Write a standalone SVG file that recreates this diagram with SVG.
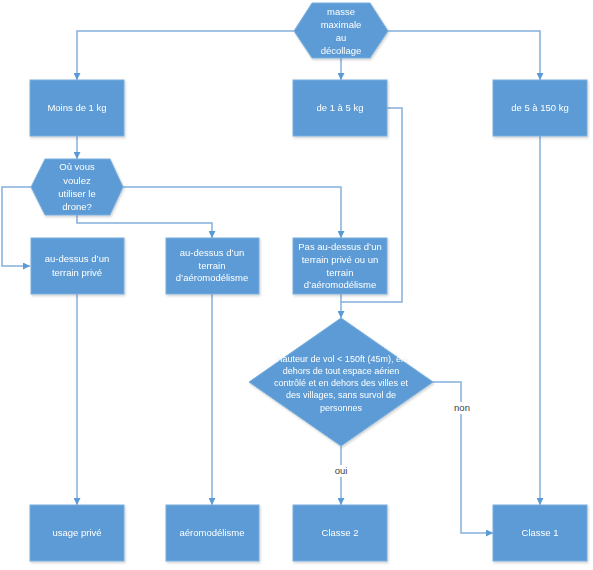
<svg xmlns="http://www.w3.org/2000/svg" width="593" height="570" viewBox="0 0 593 570">
<style>
.n{fill:#5B9BD5;stroke:#7AAEDD;stroke-width:1;}
.t{font-family:"Liberation Sans",Arial,sans-serif;font-size:9.5px;fill:#ffffff;text-anchor:middle;}
.d{font-size:9px;}
.c{fill:none;stroke:#84B0DC;stroke-width:1.5;}
.l{font-family:"Liberation Sans",Arial,sans-serif;font-size:9.5px;fill:#404040;text-anchor:middle;}
</style>
<defs>
<marker id="a" viewBox="0 0 10 10" refX="10" refY="5" markerWidth="7" markerHeight="7" markerUnits="userSpaceOnUse" orient="auto">
<path d="M0,0 L10,5 L0,10 z" fill="#5B9BD5"/>
</marker>
<filter id="s" x="-10%" y="-10%" width="130%" height="130%">
<feDropShadow dx="1" dy="1.5" stdDeviation="1.2" flood-color="#000" flood-opacity="0.18"/>
</filter>
</defs>
<g id="connectors">
<polyline class="c" points="294,31 77,31 77,80" marker-end="url(#a)"/>
<polyline class="c" points="388,31 540,31 540,80" marker-end="url(#a)"/>
<polyline class="c" points="341,58 341,80" marker-end="url(#a)"/>
<polyline class="c" points="77,136 77,159" marker-end="url(#a)"/>
<polyline class="c" points="31,187 2,187 2,266 30,266" marker-end="url(#a)"/>
<polyline class="c" points="123,187 341,187 341,238" marker-end="url(#a)"/>
<polyline class="c" points="77,215 77,223 212,223 212,238" marker-end="url(#a)"/>
<polyline class="c" points="387,108 402,108 402,302 341,302"/>
<polyline class="c" points="341,294 341,318" marker-end="url(#a)"/>
<polyline class="c" points="77,294 77,505" marker-end="url(#a)"/>
<polyline class="c" points="212,294 212,505" marker-end="url(#a)"/>
<polyline class="c" points="540,136 540,505" marker-end="url(#a)"/>
<polyline class="c" points="341,446 341,505" marker-end="url(#a)"/>
<polyline class="c" points="433,382 461,382 461,533 493,533" marker-end="url(#a)"/>
<rect x="333" y="465" width="16" height="12" fill="#ffffff"/>
<text class="l" x="341" y="474">oui</text>
<rect x="452" y="402" width="19" height="12" fill="#ffffff"/>
<text class="l" x="462" y="411">non</text>
</g>
<g id="masse" filter="url(#s)">
<polygon class="n" points="312,3 370,3 388,31 370,58 312,58 294,31"/>
<text class="t" x="341" y="15">masse</text>
<text class="t" x="341" y="28">maximale</text>
<text class="t" x="341" y="41">au</text>
<text class="t" x="341" y="54">décollage</text>
</g>
<g id="moins1kg" filter="url(#s)">
<rect class="n" x="30" y="80" width="94" height="56"/>
<text class="t" x="77" y="111">Moins de 1 kg</text>
</g>
<g id="de1a5" filter="url(#s)">
<rect class="n" x="293" y="80" width="94" height="56"/>
<text class="t" x="340" y="111">de 1 à 5 kg</text>
</g>
<g id="de5a150" filter="url(#s)">
<rect class="n" x="493" y="80" width="94" height="56"/>
<text class="t" x="540" y="111">de 5 à 150 kg</text>
</g>
<g id="ou" filter="url(#s)">
<polygon class="n" points="45,159 110,159 123,187 110,215 45,215 31,187"/>
<text class="t" x="77" y="170">Où vous</text>
<text class="t" x="77" y="184">voulez</text>
<text class="t" x="77" y="197">utiliser le</text>
<text class="t" x="77" y="210">drone?</text>
</g>
<g id="prive" filter="url(#s)">
<rect class="n" x="31" y="238" width="93" height="56"/>
<text class="t" x="77" y="262">au-dessus d’un</text>
<text class="t" x="77" y="276">terrain privé</text>
</g>
<g id="aero" filter="url(#s)">
<rect class="n" x="166" y="238" width="93" height="56"/>
<text class="t" x="212" y="256">au-dessus d’un</text>
<text class="t" x="212" y="269">terrain</text>
<text class="t" x="212" y="281">d’aéromodélisme</text>
</g>
<g id="pas" filter="url(#s)">
<rect class="n" x="293" y="238" width="94" height="56"/>
<text class="t" x="340" y="250">Pas au-dessus d’un</text>
<text class="t" x="340" y="263">terrain privé ou un</text>
<text class="t" x="340" y="276">terrain</text>
<text class="t" x="340" y="288">d’aéromodélisme</text>
</g>
<g id="hauteur" filter="url(#s)">
<polygon class="n" points="341,318 433,382 341,446 249,382"/>
<text class="t d" x="341" y="362">Hauteur de vol &lt; 150ft (45m), en</text>
<text class="t d" x="341" y="374">dehors de tout espace aérien</text>
<text class="t d" x="341" y="386">contrôlé et en dehors des villes et</text>
<text class="t d" x="341" y="398">des villages, sans survol de</text>
<text class="t d" x="341" y="411">personnes</text>
</g>
<g id="usage" filter="url(#s)">
<rect class="n" x="30" y="505" width="94" height="56"/>
<text class="t" x="77" y="536">usage privé</text>
</g>
<g id="aeromodelisme" filter="url(#s)">
<rect class="n" x="166" y="505" width="93" height="56"/>
<text class="t" x="212" y="536">aéromodélisme</text>
</g>
<g id="classe2" filter="url(#s)">
<rect class="n" x="293" y="505" width="94" height="56"/>
<text class="t" x="340" y="536">Classe 2</text>
</g>
<g id="classe1" filter="url(#s)">
<rect class="n" x="493" y="505" width="94" height="56"/>
<text class="t" x="540" y="536">Classe 1</text>
</g>
</svg>
